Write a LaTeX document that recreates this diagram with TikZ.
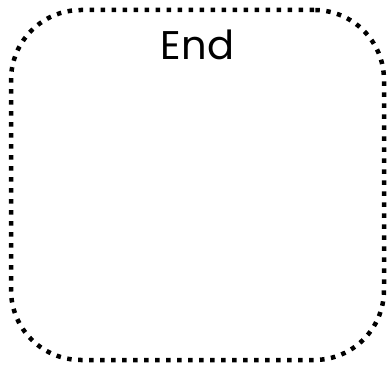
\documentclass[tikz,border=0pt]{standalone}
\usepackage{fontspec}
\setmainfont{Poppins}
\usetikzlibrary{positioning}
\tikzset{
  endbox/.style={draw=black, line width=4.5pt, dash pattern=on 4.5pt off 6.5pt,
                 rounded corners=70pt, minimum width=373pt, minimum height=350pt},
  lbl/.style={font=\fontsize{40}{44}\selectfont, text=black}
}
\begin{document}
\begin{tikzpicture}[x=1pt,y=1pt]
\useasboundingbox (0,0) rectangle (388,364);
% frame
\node[endbox] (frame) at (197.5,179) {};
% title
\node[lbl, below=19pt of frame.north] (title) {End};
\end{tikzpicture}
\end{document}
